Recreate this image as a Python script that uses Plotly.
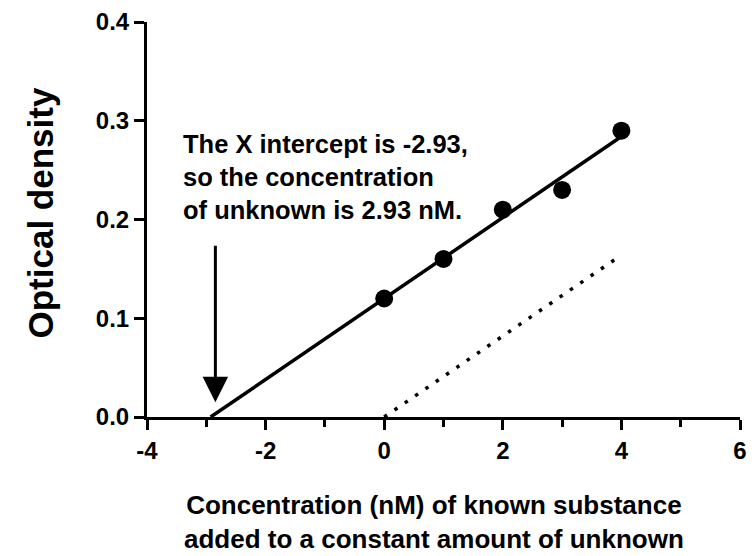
import numpy as np
import plotly.graph_objects as go

# ---- data ----
conc_added = [0, 1, 2, 3, 4]                 # nM of known substance added
optical_density = [0.12, 0.16, 0.21, 0.23, 0.29]
x_ticks = [-4, -2, 0, 2, 4, 6]
y_ticks = [0.0, 0.1, 0.2, 0.3, 0.4]
x_title = "Concentration (nM) of known substance<br>added to a constant amount of unknown"
y_title = "Optical density"

# linear regression
slope, intercept = np.polyfit(conc_added, optical_density, 1)
x_int = -intercept / slope

FONT = "Liberation Sans, Arial, Helvetica, sans-serif"

# the page body adds an 8px offset; size the figure to compensate
W, H = 739, 548
L, T, PW, PH = 139, 14, 593, 395
X0, Y0 = L + 8, T + 8 + PH          # page position of the plot's lower-left corner

fig = go.Figure()

# regression line from the X intercept to the last standard
fig.add_trace(go.Scatter(
    x=[x_int, max(conc_added)],
    y=[0, slope * max(conc_added) + intercept],
    mode="lines", line=dict(color="black", width=3.5),
    hoverinfo="skip", showlegend=False))

# dotted line: signal from the known substance alone (line through origin)
fig.add_trace(go.Scatter(
    x=[0, max(conc_added)],
    y=[0, slope * max(conc_added)],
    mode="lines", line=dict(color="black", width=3.5, dash="3.5px,9px"),
    hoverinfo="skip", showlegend=False))

# data points
fig.add_trace(go.Scatter(
    x=conc_added, y=optical_density, mode="markers",
    marker=dict(color="black", size=18, symbol="circle"),
    showlegend=False))

fig.update_layout(
    width=W, height=H,
    margin=dict(l=L, r=W - L - PW, t=T, b=H - T - PH, pad=0, autoexpand=False),
    paper_bgcolor="white", plot_bgcolor="white",
    font=dict(family=FONT, color="black"),
    showlegend=False,
)

fig.update_xaxes(
    range=[-4, 6], tickvals=x_ticks, ticktext=[str(v) for v in x_ticks],
    showgrid=False, zeroline=False, automargin=False,
    showline=True, linecolor="black", linewidth=3,
    ticks="outside", ticklen=10, tickwidth=3, tickcolor="black",
    ticklabeloverflow="allow",
    tickfont=dict(family=FONT, size=24, color="black", weight="bold"),
    minor=dict(dtick=1, tick0=0, ticks="outside", ticklen=7, tickwidth=3, tickcolor="black", showgrid=False),
)
fig.update_yaxes(
    range=[0, 0.4], tickvals=y_ticks, ticktext=[f"{v:.1f}" for v in y_ticks],
    showgrid=False, zeroline=False, automargin=False,
    showline=True, linecolor="black", linewidth=3,
    ticks="outside", ticklen=10, tickwidth=3, tickcolor="black",
    ticklabeloverflow="allow",
    tickfont=dict(family=FONT, size=24, color="black", weight="bold"),
)

# explanatory text
fig.add_annotation(
    x=(182 - X0) / PW, y=(Y0 - 129) / PH, xref="paper", yref="paper",
    xanchor="left", yanchor="top",
    align="left", showarrow=False, borderpad=0,
    text=(f"The X intercept is {x_int:.2f},<br>so the concentration<br>"
          f"of unknown is {-x_int:.2f} nM."),
    font=dict(family=FONT, size=25.5, color="black", weight="bold"))

# arrow pointing to the X intercept
arrow_x = x_int + 0.08
fig.add_annotation(
    x=arrow_x, y=0.015, ax=arrow_x, ay=0.175, xref="x", yref="y", axref="x", ayref="y",
    text="", showarrow=True, arrowhead=2, arrowsize=1.7, arrowwidth=3,
    arrowcolor="black", standoff=0, startstandoff=0)

# axis titles (positions relative to the plot area, in pixels of the reference)
fig.add_annotation(
    x=(434 - X0) / PW, y=(Y0 - 522) / PH, xref="paper", yref="paper",
    xanchor="center", yanchor="middle", align="center", showarrow=False,
    text=x_title, font=dict(family=FONT, size=26, color="black", weight="bold"))
fig.add_annotation(
    x=(40 - X0) / PW, y=(Y0 - 213.5) / PH, xref="paper", yref="paper",
    xanchor="center", yanchor="middle", textangle=-90, showarrow=False,
    text=y_title, font=dict(family=FONT, size=35, color="black", weight="bold"))

fig.write_html("out.html")
